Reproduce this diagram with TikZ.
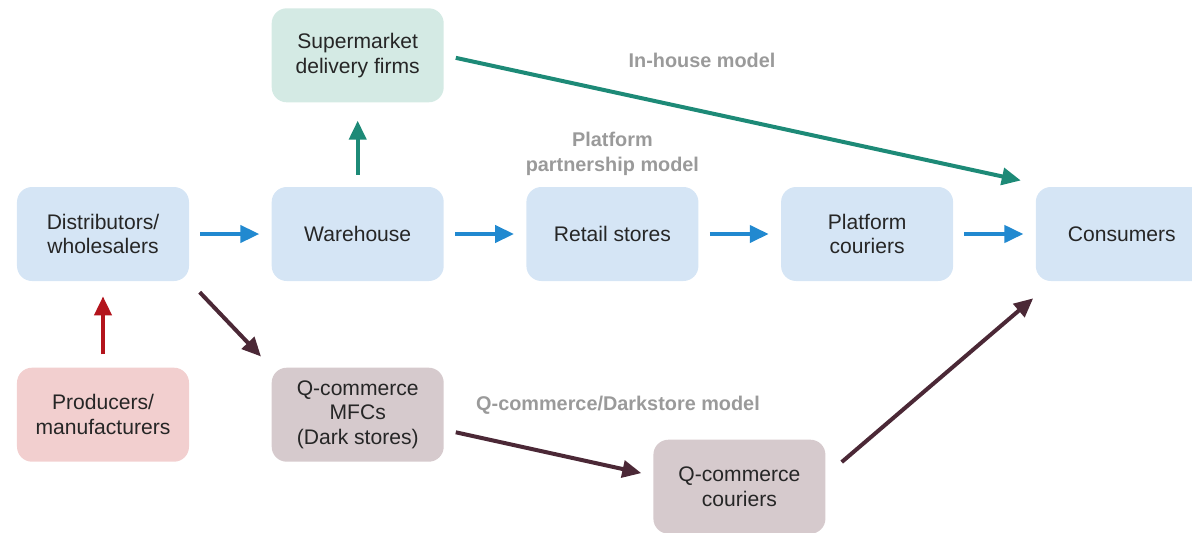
\documentclass[tikz,border=0pt]{standalone}
\usepackage{fontspec}
\setmainfont{Liberation Sans}
\usepackage{tikz}
\usetikzlibrary{arrows.meta,positioning,calc}
\definecolor{boxblue}{RGB}{213,229,245}
\definecolor{boxmint}{RGB}{212,234,228}
\definecolor{boxpink}{RGB}{242,207,207}
\definecolor{boxmauve}{RGB}{214,202,205}
\definecolor{arrblue}{RGB}{33,137,208}
\definecolor{arrgreen}{RGB}{29,138,119}
\definecolor{arrred}{RGB}{179,20,28}
\definecolor{arrdark}{RGB}{75,40,54}
\definecolor{labgrey}{RGB}{154,154,154}
\tikzset{
    stage/.style={rounded corners=0.3cm, minimum width=3.44cm, minimum height=1.88cm, align=center, font=\fontsize{12}{14}\selectfont, text=black!85},
    bluebox/.style={stage, fill=boxblue},
    flow/.style={-{Triangle[length=0.38cm, width=0.34cm]}, line width=0.08cm},
    bluearr/.style={flow, arrblue, shorten <=0.22cm, shorten >=0.24cm},
    modellabel/.style={font=\fontsize{11.3}{14.2}\selectfont\bfseries, text=labgrey, align=center}
}

\begin{document}
\begin{tikzpicture}[node distance=1.72cm and 1.64cm]
            \useasboundingbox (-2.06,-5.96) rectangle (21.78,4.68);
            % main row
            \node[bluebox] (dist) {Distributors/\\wholesalers};
            \node[bluebox, right=of dist] (ware) {Warehouse};
            \node[bluebox, right=of ware] (retail) {Retail stores};
            \node[bluebox, right=of retail] (platcour) {Platform\\couriers};
            \node[bluebox, right=of platcour] (cons) {Consumers};
            % other stages
            \node[stage, fill=boxmint, above=of ware, yshift=-0.04cm] (super) {Supermarket\\delivery firms};
            \node[stage, fill=boxpink, below=of dist] (prod) {Producers/\\manufacturers};
            \node[stage, fill=boxmauve, below=of ware] (mfc) {Q-commerce\\MFCs\\(Dark stores)};
            \node[stage, fill=boxmauve, right=4.18cm of mfc, yshift=-1.44cm] (qcour) {Q-commerce\\couriers};
            % model labels
            \node[modellabel] (inhouse) at (11.98,3.48) {In-house model};
            \node[modellabel, above=0.1cm of retail] (partner) {Platform\\partnership model};
            \node[modellabel] (darkstore) at (10.30,-3.42) {Q-commerce/Darkstore model};
            % arrows
            \draw[bluearr] (dist) -- (ware);
            \draw[bluearr] (ware) -- (retail);
            \draw[bluearr] (retail) -- (platcour);
            \draw[bluearr] (platcour) -- (cons);
            \draw[flow, arrgreen, shorten <=0.24cm, shorten >=0.36cm] (ware) -- (super);
            \draw[flow, arrred, shorten <=0.26cm, shorten >=0.3cm] (prod) -- (dist);
            \draw[flow, arrgreen, shorten <=0.24cm, shorten >=0.3cm] (super.east) -- ([yshift=0.06cm]cons.north west);
            \draw[flow, arrdark, shorten <=0.3cm, shorten >=0.3cm] (dist.south east) -- (mfc.north west);
            \draw[flow, arrdark, shorten <=0.24cm, shorten >=0.24cm] ([yshift=-0.3cm]mfc.east) -- ([yshift=0.22cm]qcour.west);
            \draw[flow, arrdark, shorten <=0.42cm, shorten >=0.06cm] ([yshift=0.22cm]qcour.east) -- ([yshift=-0.3cm]cons.south west);
        \end{tikzpicture}
\end{document}
